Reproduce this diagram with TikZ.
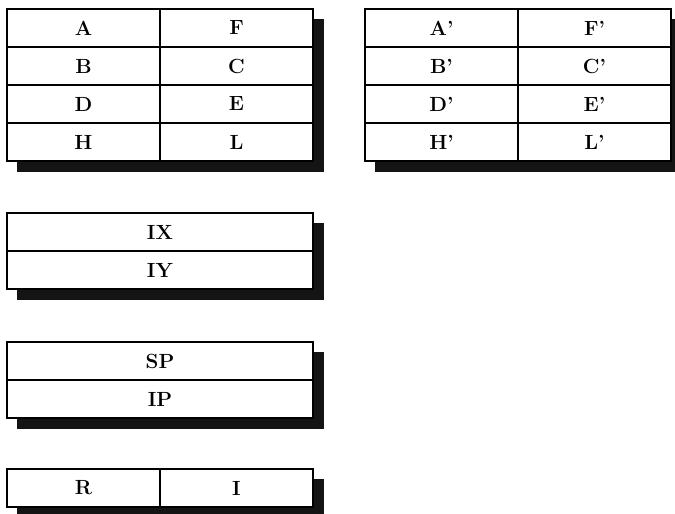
\documentclass[tikz,border=0pt]{standalone}
\usepackage{tikz}
\usetikzlibrary{positioning, backgrounds}

\begin{document}
\begin{tikzpicture}[x=1pt, y=-1pt,
    cell/.style={draw, line width=1.8pt, fill=white, minimum width=153pt, minimum height=38pt, inner sep=0pt, outer sep=0pt, font=\fontsize{20.5}{22}\selectfont\bfseries},
    wcell/.style={cell, minimum width=306pt},
    shade/.style={fill=black!92}
]
\useasboundingbox (0,0) rectangle (675,514);

% main registers
\node[cell] (A) at (83.5, 28) {A};
\node[cell, right=0pt of A] (F) {F};
\node[cell, below=0pt of A] (B) {B};
\node[cell, right=0pt of B] (C) {C};
\node[cell, below=0pt of B] (D) {D};
\node[cell, right=0pt of D] (E) {E};
\node[cell, below=0pt of D] (H) {H};
\node[cell, right=0pt of H] (L) {L};

% alternate registers
\node[cell] (A2) at (441.5, 28) {A'};
\node[cell, right=0pt of A2] (F2) {F'};
\node[cell, below=0pt of A2] (B2) {B'};
\node[cell, right=0pt of B2] (C2) {C'};
\node[cell, below=0pt of B2] (D2) {D'};
\node[cell, right=0pt of D2] (E2) {E'};
\node[cell, below=0pt of D2] (H2) {H'};
\node[cell, right=0pt of H2] (L2) {L'};

% index registers
\node[wcell] (IX) at (160, 232) {IX};
\node[wcell, below=0pt of IX] (IY) {IY};

% stack pointer and program counter
\node[wcell] (SP) at (160, 361) {SP};
\node[wcell, below=0pt of SP] (IP) {IP};

% refresh and interrupt
\node[cell] (R) at (83.5, 488) {R};
\node[cell, right=0pt of R] (I) {I};

\begin{scope}[on background layer]
\fill[shade] ([shift={(10,10)}]A.north west) rectangle ([shift={(11,11)}]L.south east);
\fill[shade] ([shift={(10,10)}]A2.north west) rectangle ([shift={(11,11)}]L2.south east);
\fill[shade] ([shift={(10,10)}]IX.north west) rectangle ([shift={(11,11)}]IY.south east);
\fill[shade] ([shift={(10,10)}]SP.north west) rectangle ([shift={(11,11)}]IP.south east);
\fill[shade] ([shift={(10,10)}]R.north west) rectangle ([shift={(11,11)}]I.south east);
\end{scope}
\end{tikzpicture}
\end{document}
